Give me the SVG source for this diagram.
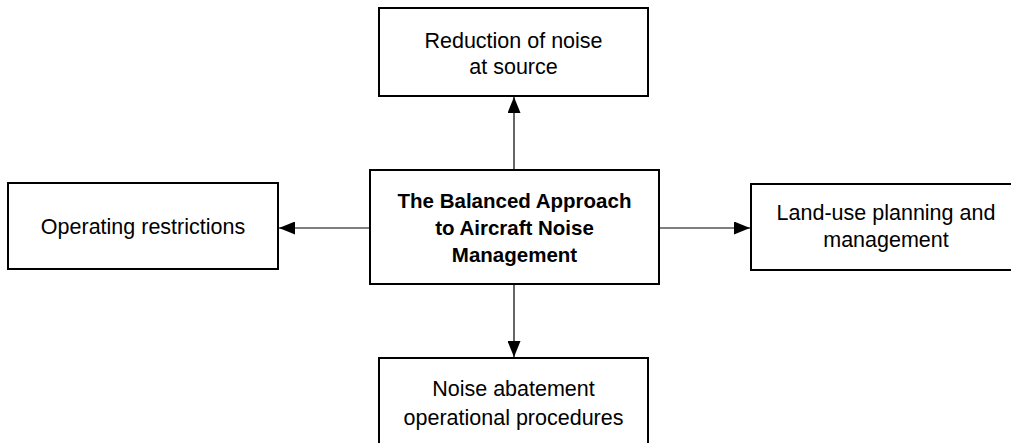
<svg xmlns="http://www.w3.org/2000/svg" width="1011" height="443" viewBox="0 0 1011 443">
<style>
.box{fill:#fff;stroke:#000;stroke-width:2}
.t{font-family:"Liberation Sans",Arial,sans-serif;font-size:21.5px;fill:#000;text-anchor:middle}
.b{font-weight:bold;font-size:20.5px}
.c{stroke:#000;stroke-width:1.2;fill:none}
</style>
<defs>
<marker id="ah" markerUnits="userSpaceOnUse" markerWidth="16" markerHeight="13" viewBox="0 0 16 13" refX="16" refY="6.5" orient="auto">
<path d="M0,0 L16,6.5 L0,13 Z" fill="#000"/>
</marker>
</defs>
<g id="connectors">
<line class="c" x1="514" y1="170" x2="514" y2="97" marker-end="url(#ah)"/>
<line class="c" x1="370" y1="228" x2="279" y2="228" marker-end="url(#ah)"/>
<line class="c" x1="659" y1="228" x2="750" y2="228" marker-end="url(#ah)"/>
<line class="c" x1="514" y1="284" x2="514" y2="357" marker-end="url(#ah)"/>
</g>
<g id="center">
<rect class="box" x="370" y="170" width="289" height="114"/>
<text class="t b" x="514.5" y="208">The Balanced Approach</text>
<text class="t b" x="514.5" y="235">to Aircraft Noise</text>
<text class="t b" x="514.5" y="262">Management</text>
</g>
<g id="top">
<rect class="box" x="379" y="8" width="269" height="88"/>
<text class="t" x="513.5" y="48">Reduction of noise</text>
<text class="t" x="513.5" y="74">at source</text>
</g>
<g id="left">
<rect class="box" x="8" y="183" width="270" height="86"/>
<text class="t" x="143" y="234">Operating restrictions</text>
</g>
<g id="right">
<rect class="box" x="751" y="184" width="272" height="86"/>
<text class="t" x="886" y="220">Land-use planning and</text>
<text class="t" x="886" y="247">management</text>
</g>
<g id="bottom">
<rect class="box" x="379" y="358" width="269" height="95"/>
<text class="t" x="513.5" y="396">Noise abatement</text>
<text class="t" x="513.5" y="425">operational procedures</text>
</g>
</svg>
